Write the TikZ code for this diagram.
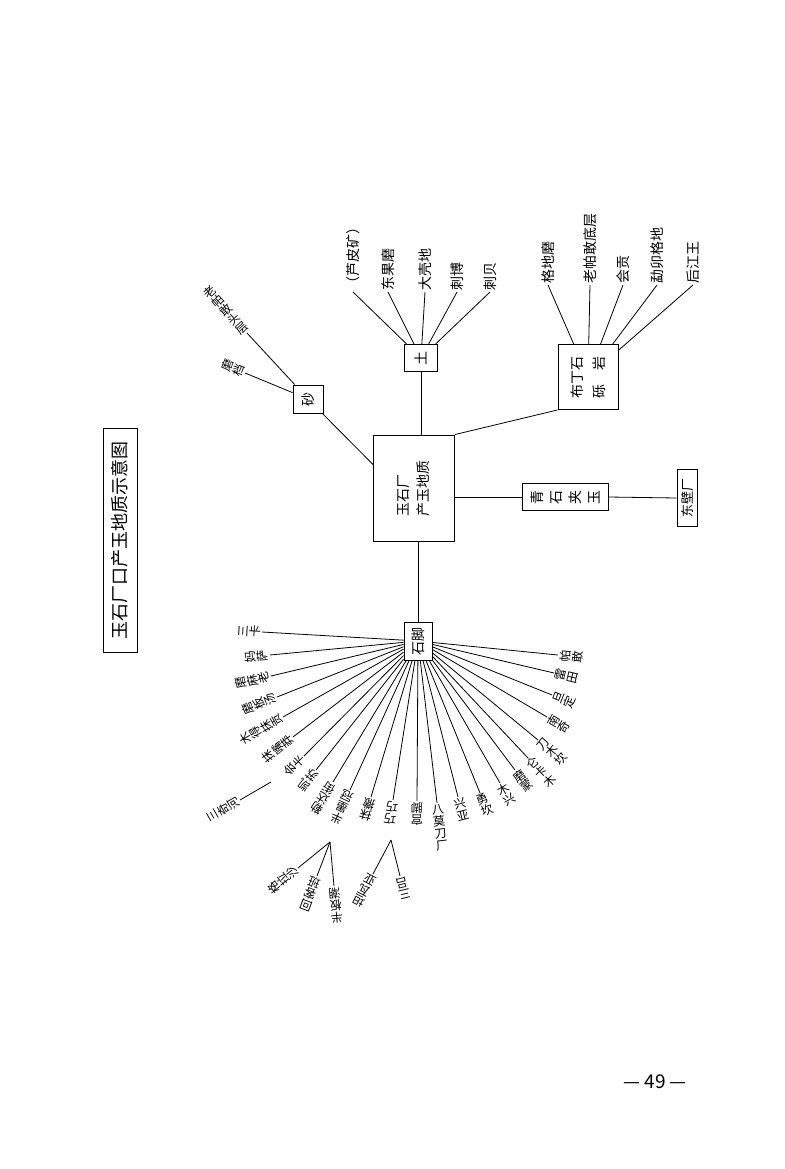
\documentclass[tikz,border=0pt]{standalone}
\usepackage{fontspec}
\setmainfont{Noto Sans CJK SC}
\usetikzlibrary{calc}
\tikzset{
  bx/.style={draw,line width=0.9pt,inner sep=0pt},
  lab/.style={font=\fontsize{12}{12}\selectfont,inner sep=1.5pt,align=center},
  ln/.style={line width=0.8pt},
}
\newcommand\fanL[3]{\draw[ln] (#1) -- (#2);
  \path let \p1=($(#1.center)-(#2)$), \n1={atan2(\y1,\x1)} in node[lab,rotate=\n1+90,anchor=south] at (#2) {#3};}
\newcommand\fanR[3]{\draw[ln] (#1) -- (#2);
  \path let \p1=($(#2)-(#1.center)$), \n1={atan2(\y1,\x1)} in node[lab,rotate=\n1+90,anchor=north] at (#2) {#3};}
\begin{document}
\begin{tikzpicture}[x=1pt,y=-1pt]
\useasboundingbox (0,0) rectangle (784,1169);
% title
\node[bx,minimum width=34,minimum height=224] (tb) at (120,540) {};
\node[rotate=90,font=\fontsize{18}{20}\selectfont] (tt) at (tb) {玉石厂口产玉地质示意图};
% boxes
\node[bx,minimum width=81,minimum height=106] (mb) at (414,488) {};
\node[rotate=90,font=\fontsize{14}{20}\selectfont,align=left] (mbt) at (mb) {玉石厂\\产玉地质};
\node[bx,minimum width=30,minimum height=28] (sha) at (308,399) {};
\node[rotate=90,font=\fontsize{14}{16}\selectfont] (shat) at (sha) {砂};
\node[bx,minimum width=33,minimum height=27] (tu) at (421,358) {};
\node[rotate=90,font=\fontsize{14}{16}\selectfont] (tut) at (tu) {土};
\node[bx,minimum width=60,minimum height=65] (bd) at (588,377) {};
\node[rotate=90,font=\fontsize{14}{22}\selectfont,align=left] (bdt) at (bd) {布丁石\\砾\quad 岩};
\node[bx,minimum width=86,minimum height=27] (qs) at (565,497) {};
\node[rotate=90,font=\fontsize{14}{19}\selectfont,align=center] (qst) at (qs) {青\\石\\夹\\玉};
\node[bx,minimum width=20,minimum height=57] (db) at (687,498) {};
\node[rotate=90,font=\fontsize{13}{15}\selectfont] (dbt) at (db) {东壁厂};
\node[bx,minimum width=28,minimum height=38] (sj) at (418,641) {};
\node[rotate=90,font=\fontsize{14}{16}\selectfont] (sjt) at (sj) {石脚};
% main connections
\draw[ln] (mb.north west) ++(0,30) coordinate (m1) -- (sha);
\draw[ln] (tu.south) -- (tu.south |- mb.north);
\draw[ln] (mb.north east) -- (bd.south west);
\draw[ln] (qs.west) -- (qs.west -| mb.east);
\draw[ln] (qs.east) -- (db.west);
\draw[ln] (sj.north) -- (sj.north |- mb.south);
% sha labels
\coordinate (s1) at (247,333); \fanL{sha}{s1}{老\\帕\\敢\\头\\层}
\coordinate (s2) at (245,373); \fanL{sha}{s2}{磨\\档}
% tu labels
\foreach \i/\x/\t in {1/353/（芦皮矿）,2/388/东果磨,3/425/大壳地,4/457/刺博,5/490/刺贝}{
  \coordinate (t\i) at (\x,292);
  \draw[ln] (t\i) -- (tu);
  \node[lab,font=\fontsize{14}{15}\selectfont,rotate=90,anchor=west] (tt\i) at (t\i) {\t};}
% bd labels
\foreach \i/\x/\t in {1/548/格地磨,2/590/老帕敢底层,3/623/会贡,4/657/勐卯格地,5/693/后江王}{
  \coordinate (b\i) at (\x,285);
  \draw[ln] (b\i) -- (bd);
  \node[lab,font=\fontsize{14}{15}\selectfont,rotate=90,anchor=west] (bt\i) at (b\i) {\t};}
% fan left
\coordinate (L1) at (262,632); \fanL{sj}{L1}{三\\卡}
\coordinate (L2) at (270,655); \fanL{sj}{L2}{妈\\萨}
\coordinate (L3) at (271,676); \fanL{sj}{L3}{磨\\麻\\老}
\coordinate (L4) at (277,697); \fanL{sj}{L4}{磨\\板\\汤}
\coordinate (L5) at (283,717); \fanL{sj}{L5}{木\\得\\抹\\贡}
\coordinate (L6) at (293,737); \fanL{sj}{L6}{抹\\嘴\\莽}
\coordinate (L7) at (304,756); \fanL{sj}{L7}{会\\卡}
\coordinate (L8) at (316,770); \fanL{sj}{L8}{凯\\苏}
\coordinate (L9) at (333,782); \fanL{sj}{L9}{勒\\达\\街}
\coordinate (L10) at (350,790); \fanL{sj}{L10}{半\\墨\\冠}
\coordinate (L11) at (371,797); \fanL{sj}{L11}{抹\\撒}
\coordinate (L12) at (393,800); \fanL{sj}{L12}{巧\\巧}
\coordinate (L13) at (417,801); \fanL{sj}{L13}{宫\\脚}
% sub branches
\coordinate (J1) at (271,782); \coordinate (S1) at (240,800);
\draw[ln] (J1) -- (S1);
\path let \p1=($(J1)-(S1)$), \n1={atan2(\y1,\x1)} in node[lab,rotate=\n1+90,anchor=south] (S1t) at (S1) {三\\奇\\河};
\coordinate (J2) at (330,842);
\foreach \i/\x/\y/\t in {a/298/868/格\\拉\\沙,b/317/876/回\\客\\班,c/334/886/半\\板\\潮}{
  \coordinate (S2\i) at (\x,\y); \draw[ln] (J2) -- (S2\i);
  \path let \p1=($(J2)-(S2\i)$), \n1={atan2(\y1,\x1)} in node[lab,rotate=\n1+90,anchor=south] (S2\i t) at (S2\i) {\t};}
\coordinate (J3) at (391,840);
\foreach \i/\x/\y/\t in {a/373/874/坦\\瓦\\亚,b/400/876/三\\吕}{
  \coordinate (S3\i) at (\x,\y); \draw[ln] (J3) -- (S3\i);
  \path let \p1=($(J3)-(S3\i)$), \n1={atan2(\y1,\x1)} in node[lab,rotate=\n1+90,anchor=south] (S3\i t) at (S3\i) {\t};}
% fan right
\coordinate (R1) at (437,803); \fanR{sj}{R1}{八\\莫\\刀\\厂}
\coordinate (R2) at (458,797); \fanR{sj}{R2}{兴\\亚}
\coordinate (R3) at (480,793); \fanR{sj}{R3}{勇\\坎}
\coordinate (R4) at (500,783); \fanR{sj}{R4}{木\\兴}
\coordinate (R5) at (515,770); \fanR{sj}{R5}{磨\\蒙}
\coordinate (R6) at (528,758); \fanR{sj}{R6}{仑\\卡\\木}
\coordinate (R7) at (538,740); \fanR{sj}{R7}{刀\\木\\坎}
\coordinate (R8) at (547,717); \fanR{sj}{R8}{南\\奇}
\coordinate (R9) at (552,695); \fanR{sj}{R9}{旦\\定}
\coordinate (R10) at (554,673); \fanR{sj}{R10}{雷\\田}
\coordinate (R11) at (558,655); \fanR{sj}{R11}{帕\\敢}
% page number
\node[font=\fontsize{19}{21}\selectfont] (pn) at (655,1082) {—\ 49\ —};
\end{tikzpicture}
\end{document}
